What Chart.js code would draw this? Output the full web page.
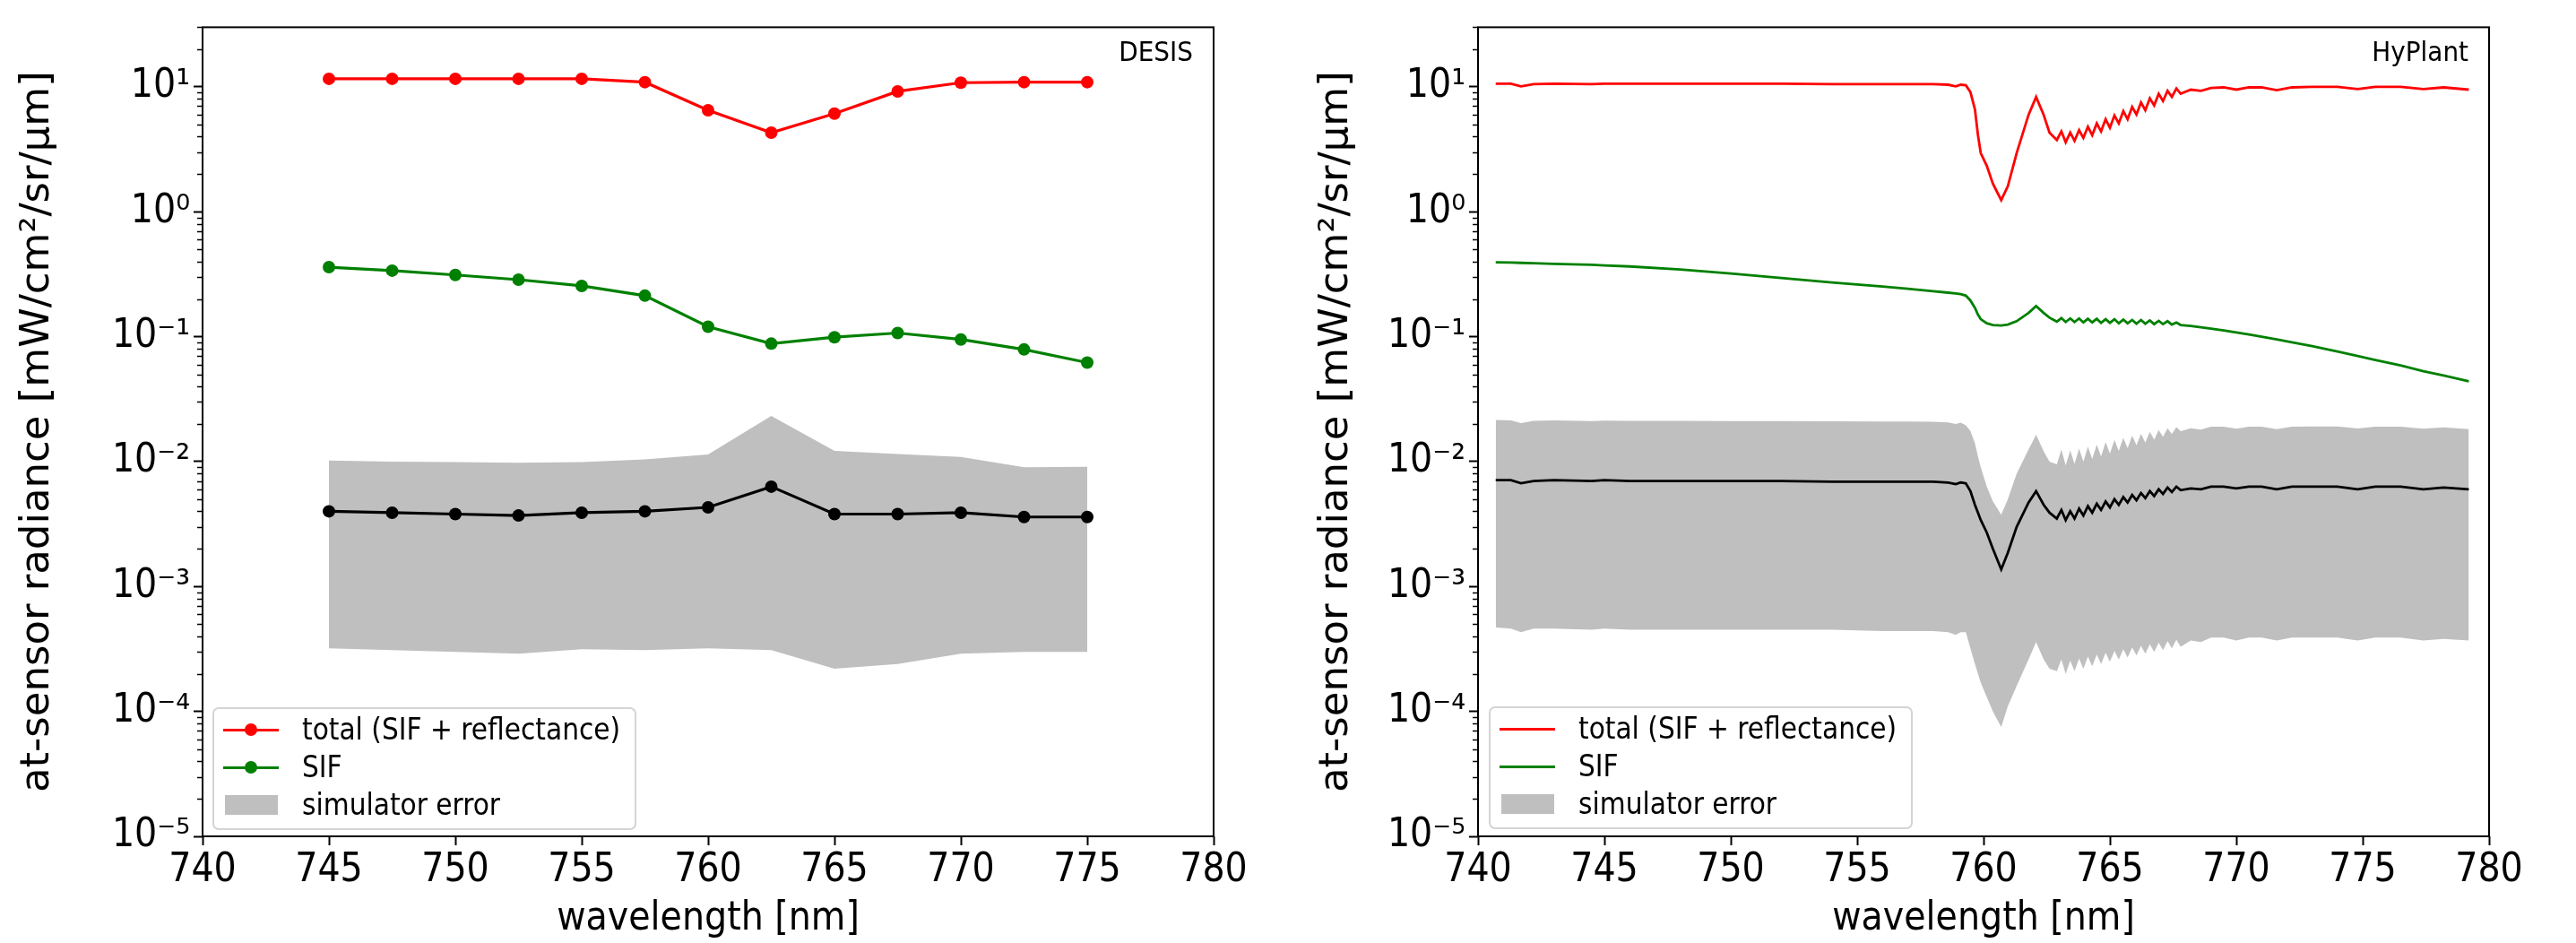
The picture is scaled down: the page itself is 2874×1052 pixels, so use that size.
<!DOCTYPE html>
<html>
<head>
<meta charset="utf-8">
<script src="https://cdn.jsdelivr.net/npm/chart.js@4.4.1/dist/chart.umd.min.js"></script>
<style>
  body { margin: 0; background: #fff; width: 2874px; height: 1052px; overflow: hidden; position: relative;
         font-family: "DejaVu Sans Condensed", "DejaVu Sans", sans-serif; color: #000; }
  .panel { position: absolute; top: 0; }
  .legend { position: absolute; background: rgba(255,255,255,0.85); border: 2px solid #d4d4d4;
            border-radius: 7px; box-sizing: border-box; }
  .legend .row { position: absolute; left: 0; right: 0; height: 0; }
  .legend .swatch-line { position: absolute; left: 10px; width: 62px; top: -1.5px; height: 3px; }
  .legend .swatch-dot { position: absolute; left: 34px; top: -7px; width: 14px; height: 14px; border-radius: 50%; }
  .legend .swatch-patch { position: absolute; left: 12px; width: 59px; top: -11px; height: 22px; }
  .legend .text { position: absolute; left: 98px; top: 0; transform: translateY(-52%); font-size: 33px;
                  line-height: 1; white-space: nowrap; }
</style>
</head>
<body>
<div class="panel" style="left:0px"><canvas id="desisChart" width="1420" height="1052"></canvas></div>
<div class="panel" style="left:1440px"><canvas id="hyplantChart" width="1434" height="1052"></canvas></div>
<div class="legend" id="desisLegend" style="left:237px; top:789px; width:473px; height:137px"></div>
<div class="legend" id="hyplantLegend" style="left:1661px; top:788px; width:473px; height:137px"></div>

<script>
// ---- axes ----
const xTickValues = [740, 745, 750, 755, 760, 765, 770, 775, 780];
const yTickValues = [1e-5, 1e-4, 1e-3, 1e-2, 1e-1, 1, 10];
const yTickLabels = ["10⁻⁵", "10⁻⁴", "10⁻³", "10⁻²", "10⁻¹", "10⁰", "10¹"];
const minorSteps = [2, 3, 4, 5, 6, 7, 8, 9];

// ---- DESIS (left) ----
const desisWl = [745, 747.5, 750, 752.5, 755, 757.5, 760, 762.5, 765, 767.5, 770, 772.5, 775];
const desisTotal = [11.6, 11.6, 11.6, 11.6, 11.6, 10.9, 6.5, 4.3, 6.1, 9.2, 10.8, 10.9, 10.9];
const desisSif = [0.360, 0.338, 0.312, 0.286, 0.255, 0.213, 0.120, 0.088, 0.099, 0.107, 0.095, 0.079, 0.062];
const desisSim = [0.0040, 0.0039, 0.0038, 0.0037, 0.0039, 0.0040, 0.0043, 0.0063, 0.0038, 0.0038, 0.0039, 0.0036, 0.0036];
const desisErrHi = [0.0102, 0.0100, 0.0099, 0.0098, 0.0099, 0.0104, 0.0114, 0.0232, 0.0122, 0.0115, 0.0109, 0.0090, 0.0091];
const desisErrLo = [3.2e-4, 3.1e-4, 3.0e-4, 2.9e-4, 3.15e-4, 3.1e-4, 3.2e-4, 3.1e-4, 2.2e-4, 2.4e-4, 2.9e-4, 3.0e-4, 3.0e-4];

// ---- HyPlant (right) ----
const hyWl = [
  740.7, 741.3, 741.7, 742.2, 743, 744.5, 745, 746, 748, 750, 752, 754, 756, 757, 758, 758.6, 758.9, 759.1,
  759.3, 759.48, 759.66, 759.78, 759.89, 760.13, 760.37, 760.7, 760.96, 761.31, 761.78, 762.08, 762.38, 762.61,
  762.9, 763.08, 763.25, 763.43, 763.6, 763.78, 763.95, 764.13, 764.3, 764.48, 764.65, 764.83, 765.0, 765.18,
  765.35, 765.53, 765.7, 765.88, 766.05, 766.23, 766.4, 766.58, 766.75, 766.93, 767.1, 767.28, 767.45, 767.63, 767.8,
  768.2, 768.6, 769, 769.5, 770, 770.5, 771, 771.6, 772.2, 773, 774, 774.8, 775.5, 776.5, 777.4, 778.2, 779.2
];
const hyTotal = [
  10.6, 10.6, 10.1, 10.5, 10.6, 10.5, 10.6, 10.6, 10.6, 10.6, 10.6, 10.5, 10.5, 10.5, 10.5, 10.4, 10.1, 10.4,
  10.3, 9.1, 6.6, 4.1, 2.95, 2.33, 1.68, 1.24, 1.6, 2.95, 5.96, 8.3, 5.96, 4.3,
  3.75, 4.4, 3.6, 4.3, 3.7, 4.5, 3.9, 4.8, 4.1, 5.1, 4.4, 5.5, 4.7, 5.9,
  5.1, 6.4, 5.5, 6.9, 6.0, 7.5, 6.5, 8.1, 7.1, 8.8, 7.7, 9.3, 8.3, 9.7, 8.8,
  9.5, 9.3, 9.8, 9.9, 9.5, 9.9, 9.9, 9.4, 9.9, 10.0, 10.0, 9.6, 10.0, 10.0, 9.6, 9.9, 9.5
];
const hySif = [
  0.394, 0.392, 0.390, 0.387, 0.383, 0.376, 0.372, 0.365, 0.345, 0.320, 0.295, 0.272, 0.252, 0.242, 0.231, 0.225, 0.222, 0.219,
  0.213, 0.195, 0.170, 0.150, 0.138, 0.128, 0.124, 0.123, 0.125, 0.133, 0.155, 0.176, 0.155, 0.142,
  0.132, 0.141, 0.131, 0.140, 0.131, 0.140, 0.130, 0.139, 0.130, 0.139, 0.129, 0.138, 0.129, 0.138,
  0.128, 0.137, 0.128, 0.136, 0.127, 0.136, 0.127, 0.135, 0.126, 0.134, 0.126, 0.133, 0.125, 0.130, 0.124,
  0.122, 0.119, 0.116, 0.112, 0.108, 0.104, 0.100, 0.095, 0.090, 0.084, 0.076, 0.070, 0.065, 0.059, 0.053, 0.049, 0.044
];
const hySim = [
  0.0071, 0.0071, 0.0067, 0.0070, 0.0071, 0.0070, 0.0071, 0.0070, 0.0070, 0.0070, 0.0070, 0.0069, 0.0069, 0.0069, 0.0069, 0.0068, 0.0066, 0.0068,
  0.0067, 0.0058, 0.0045, 0.0039, 0.0034, 0.0027, 0.0020, 0.00137, 0.00186, 0.0030, 0.0047, 0.0058, 0.0045, 0.0039,
  0.0035, 0.0041, 0.0034, 0.0040, 0.0035, 0.0042, 0.0037, 0.0044, 0.0039, 0.0046, 0.0041, 0.0048, 0.0043, 0.0050,
  0.0045, 0.0052, 0.0047, 0.0054, 0.0049, 0.0056, 0.0051, 0.0058, 0.0053, 0.0060, 0.0055, 0.0062, 0.0057, 0.0063, 0.0059,
  0.0061, 0.0060, 0.0063, 0.0063, 0.0061, 0.0063, 0.0063, 0.0060, 0.0063, 0.0063, 0.0063, 0.0060, 0.0063, 0.0063, 0.0060, 0.0062, 0.0060
];
const hyErrHi = [
  0.0215, 0.0214, 0.0203, 0.0212, 0.0214, 0.0211, 0.0213, 0.0212, 0.0212, 0.0211, 0.0211, 0.0210, 0.0209, 0.0209, 0.0208, 0.0206, 0.0200, 0.0205,
  0.0195, 0.0176, 0.0140, 0.0110, 0.0090, 0.0063, 0.0048, 0.00375, 0.0050, 0.0080, 0.0125, 0.0164, 0.0121, 0.0100,
  0.0095, 0.0125, 0.0093, 0.0123, 0.0096, 0.0127, 0.0100, 0.0132, 0.0105, 0.0137, 0.0110, 0.0143, 0.0116, 0.0149,
  0.0122, 0.0155, 0.0128, 0.0161, 0.0135, 0.0167, 0.0142, 0.0173, 0.0150, 0.0179, 0.0158, 0.0185, 0.0166, 0.0189, 0.0175,
  0.0185, 0.0180, 0.0190, 0.0190, 0.0183, 0.0190, 0.0190, 0.0182, 0.0190, 0.0191, 0.0191, 0.0184, 0.0190, 0.0190, 0.0183, 0.0188, 0.0182
];
const hyErrLo = [
  4.7e-4, 4.6e-4, 4.3e-4, 4.6e-4, 4.6e-4, 4.5e-4, 4.6e-4, 4.5e-4, 4.5e-4, 4.5e-4, 4.5e-4, 4.5e-4, 4.4e-4, 4.4e-4, 4.4e-4, 4.3e-4, 4.1e-4, 4.3e-4,
  4.3e-4, 3.2e-4, 2.4e-4, 2.0e-4, 1.7e-4, 1.3e-4, 1.0e-4, 7.5e-5, 1.1e-4, 1.6e-4, 2.6e-4, 3.6e-4, 2.6e-4, 2.2e-4,
  2.1e-4, 2.6e-4, 2.0e-4, 2.55e-4, 2.1e-4, 2.65e-4, 2.2e-4, 2.75e-4, 2.3e-4, 2.85e-4, 2.4e-4, 2.95e-4, 2.5e-4, 3.05e-4,
  2.6e-4, 3.15e-4, 2.7e-4, 3.25e-4, 2.8e-4, 3.35e-4, 2.9e-4, 3.45e-4, 3.0e-4, 3.55e-4, 3.1e-4, 3.65e-4, 3.2e-4, 3.75e-4, 3.3e-4,
  3.7e-4, 3.6e-4, 3.9e-4, 3.9e-4, 3.7e-4, 3.9e-4, 3.9e-4, 3.7e-4, 3.9e-4, 3.9e-4, 3.9e-4, 3.7e-4, 3.9e-4, 3.9e-4, 3.7e-4, 3.8e-4, 3.7e-4
];

const fontFamily = '"DejaVu Sans Condensed", "DejaVu Sans", sans-serif';
Chart.defaults.font.family = fontFamily;
Chart.defaults.color = "#000";

const RED = "#ff0000";
const GREEN = "#008000";
const GREY = "#bfbfbf";

function toPoints(xs, ys) {
    return xs.map((x, i) => ({ x: x, y: ys[i] }));
}

// frame, minor log ticks and the instrument name
const framePlugin = {
    id: "frame",
    afterDraw(chart, args, opts) {
        const { ctx, chartArea: a } = chart;
        const y = chart.scales.y;
        ctx.save();
        ctx.strokeStyle = "#000";
        ctx.lineWidth = 1.5;
        yTickValues.forEach(decade => {
            minorSteps.forEach(m => {
                const v = decade * m;
                if (v > y.max) return;
                const py = Math.round(y.getPixelForValue(v)) + 0.5;
                ctx.beginPath();
                ctx.moveTo(a.left - 6, py);
                ctx.lineTo(a.left, py);
                ctx.stroke();
            });
        });
        ctx.lineWidth = 2;
        ctx.strokeRect(a.left, a.top, a.right - a.left, a.bottom - a.top);
        ctx.fillStyle = "#000";
        ctx.font = "31px " + fontFamily;
        ctx.textAlign = "right";
        ctx.textBaseline = "alphabetic";
        ctx.fillText(opts.text, a.right - 23, a.top + 38);
        ctx.restore();
    }
};

function makePanel(canvasId, cfg) {
    return new Chart(document.getElementById(canvasId), {
        type: "line",
        data: { datasets: cfg.datasets },
        options: {
            responsive: false,
            animation: false,
            devicePixelRatio: 1,
            events: [],
            layout: { padding: { left: 0, top: 22, right: cfg.rightPad, bottom: 0 } },
            plugins: {
                legend: { display: false },
                tooltip: { enabled: false },
                frame: { text: cfg.name }
            },
            scales: {
                x: {
                    type: "linear",
                    min: 740,
                    max: 780,
                    afterBuildTicks: s => { s.ticks = xTickValues.map(v => ({ value: v })); },
                    afterFit: s => { s.height = 119; },
                    ticks: { font: { size: 44 }, padding: 2, maxRotation: 0, autoSkip: false },
                    grid: { drawOnChartArea: false, tickLength: 10, tickWidth: 2, tickColor: "#000" },
                    border: { display: false },
                    title: { display: true, text: "wavelength [nm]", font: { size: 44 }, padding: { top: 0, bottom: 0 } }
                },
                y: {
                    type: "logarithmic",
                    min: 1e-5,
                    max: 30,
                    afterBuildTicks: s => { s.ticks = yTickValues.map(v => ({ value: v })); },
                    afterFit: s => { s.width = cfg.yWidth; },
                    ticks: {
                        font: { size: 44 },
                        padding: 4,
                        callback: v => {
                            const i = yTickValues.indexOf(v);
                            return i >= 0 ? yTickLabels[i] : "";
                        }
                    },
                    grid: { drawOnChartArea: false, tickLength: 10, tickWidth: 2, tickColor: "#000" },
                    border: { display: false },
                    title: {
                        display: true,
                        text: "at-sensor radiance [mW/cm²/sr/μm]",
                        font: { size: 45, family: '"DejaVu Sans", sans-serif' },
                        padding: { top: cfg.titlePad, bottom: 0 }
                    }
                }
            }
        },
        plugins: [framePlugin]
    });
}

function lineSet(label, xs, ys, color, width, marker, legendKind) {
    return {
        label: label,
        data: toPoints(xs, ys),
        borderColor: color,
        backgroundColor: color,
        borderWidth: width,
        pointRadius: marker ? 7 : 0,
        pointBorderWidth: 0,
        tension: 0,
        fill: false,
        legendKind: legendKind,
        marker: marker
    };
}

function bandSets(label, xs, hi, lo) {
    return [
        { label: label, data: toPoints(xs, hi), borderWidth: 0, pointRadius: 0, backgroundColor: GREY,
          borderColor: GREY, fill: "+1", tension: 0, legendKind: "patch" },
        { label: label + " low", data: toPoints(xs, lo), borderWidth: 0, pointRadius: 0,
          borderColor: GREY, fill: false, tension: 0 }
    ];
}

const desisChart = makePanel("desisChart", {
    name: "DESIS",
    yWidth: 226,
    rightPad: 1420 - 1354,
    titlePad: 15,
    datasets: [
        lineSet("total (SIF + reflectance)", desisWl, desisTotal, RED, 3.2, true, "line"),
        lineSet("SIF", desisWl, desisSif, GREEN, 3.2, true, "line"),
        lineSet("simulator", desisWl, desisSim, "#000", 3.2, true, null),
        ...bandSets("simulator error", desisWl, desisErrHi, desisErrLo)
    ]
});

const hyplantChart = makePanel("hyplantChart", {
    name: "HyPlant",
    yWidth: 209,
    rightPad: 1434 - (2777 - 1440),
    titlePad: 24,
    datasets: [
        lineSet("total (SIF + reflectance)", hyWl, hyTotal, RED, 2.8, false, "line"),
        lineSet("SIF", hyWl, hySif, GREEN, 2.8, false, "line"),
        lineSet("simulator", hyWl, hySim, "#000", 2.8, false, null),
        ...bandSets("simulator error", hyWl, hyErrHi, hyErrLo)
    ]
});

// legend boxes, drawn as html in the lower left of each panel
function buildLegend(elementId, chart) {
    const box = document.getElementById(elementId);
    const rowCentres = [23, 65, 107];
    chart.data.datasets.filter(d => d.legendKind).forEach((d, i) => {
        const row = document.createElement("div");
        row.className = "row";
        row.style.top = rowCentres[i] + "px";
        if (d.legendKind === "line") {
            const ln = document.createElement("div");
            ln.className = "swatch-line";
            ln.style.background = d.borderColor;
            row.appendChild(ln);
            if (d.marker) {
                const dot = document.createElement("div");
                dot.className = "swatch-dot";
                dot.style.background = d.borderColor;
                row.appendChild(dot);
            }
        } else {
            const patch = document.createElement("div");
            patch.className = "swatch-patch";
            patch.style.background = d.backgroundColor;
            row.appendChild(patch);
        }
        const txt = document.createElement("div");
        txt.className = "text";
        txt.textContent = d.label;
        row.appendChild(txt);
        box.appendChild(row);
    });
}

buildLegend("desisLegend", desisChart);
buildLegend("hyplantLegend", hyplantChart);
</script>
</body>
</html>
